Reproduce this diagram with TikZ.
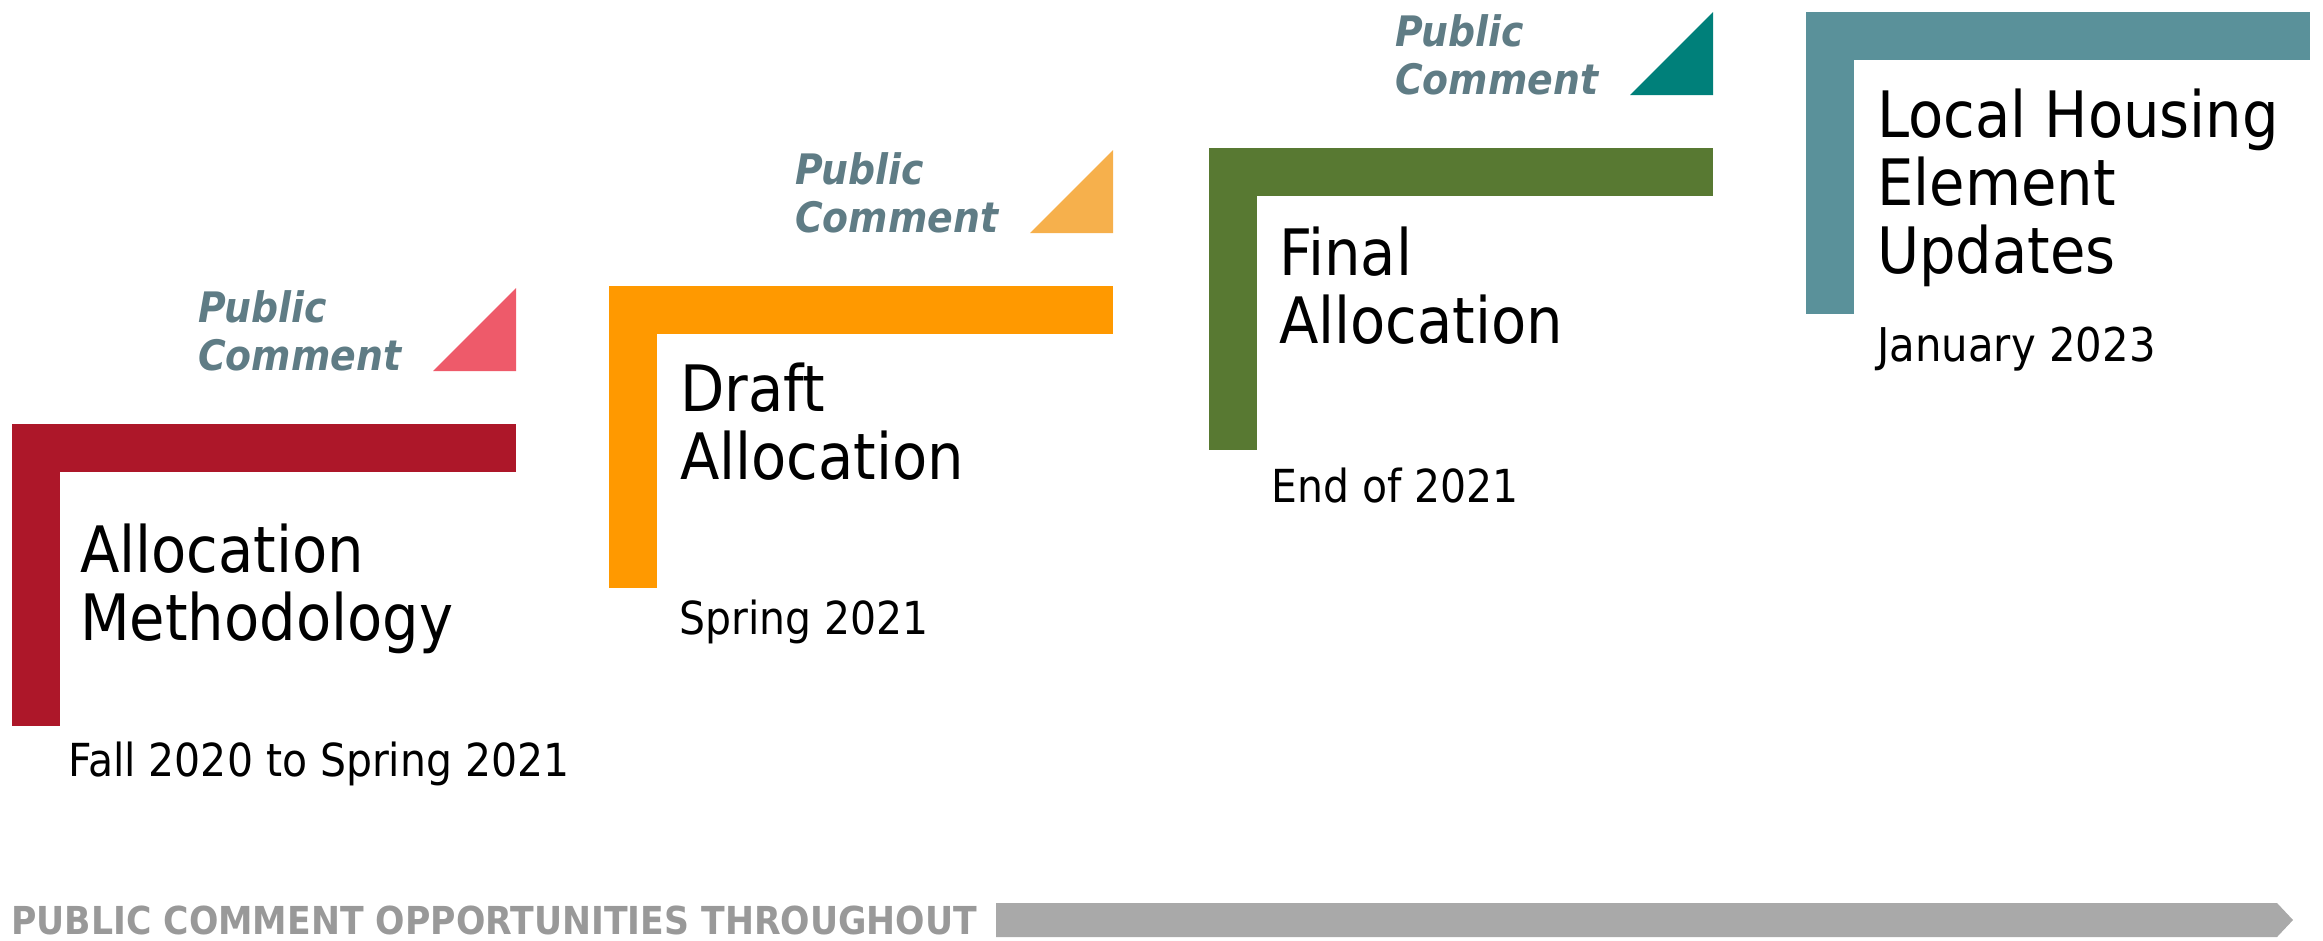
\documentclass[tikz,border=0pt]{standalone}
\usepackage{fontspec}
\setmainfont{DejaVu Sans}[FakeStretch=0.9]
\usepackage{tikz}
\usetikzlibrary{positioning}

\definecolor{methred}{HTML}{AD1729}
\definecolor{methpink}{HTML}{EE5A6A}
\definecolor{draftorange}{HTML}{FF9900}
\definecolor{draftlight}{HTML}{F6B04C}
\definecolor{finalgreen}{HTML}{587932}
\definecolor{finalteal}{HTML}{00807A}
\definecolor{localteal}{HTML}{5A919A}
\definecolor{pubslate}{HTML}{5F7C85}
\definecolor{footgray}{HTML}{999999}
\definecolor{arrowgray}{HTML}{A9A9A9}

\begin{document}
\begin{tikzpicture}[x=1pt, y=-1pt,
  title/.style={anchor=base west, inner sep=0pt, align=left,
    font=\fontsize{64}{68}\selectfont},
  when/.style={anchor=base west, inner sep=0pt,
    font=\fontsize{45.5}{54}\selectfont},
  pubc/.style={anchor=base west, inner sep=0pt, align=left, text=pubslate,
    font=\fontsize{42}{48}\selectfont\bfseries\itshape}]
  \useasboundingbox (0,0) rectangle (2323,940);
  % Allocation Methodology (base = last line)
  \fill[methred] (12,424) rectangle (516,472);
  \fill[methred] (12,424) rectangle (60,726);
  \fill[methpink] (433,371) -- (516,371) -- (516,288) -- cycle;
  \node[pubc] (pub1) at (198,370) {Public\\Comment};
  \node[title] (method) at (80,640) {Allocation\\Methodology};
  \node[when] (fall) at (68,776) {Fall 2020 to Spring 2021};
  % Draft Allocation
  \fill[draftorange] (609,286) rectangle (1113,334);
  \fill[draftorange] (609,286) rectangle (657,588);
  \fill[draftlight] (1030,233) -- (1113,233) -- (1113,150) -- cycle;
  \node[pubc] (pub2) at (795,232) {Public\\Comment};
  \node[title] (draft) at (680,479) {Draft\\Allocation};
  \node[when] (spring) at (679,634) {Spring 2021};
  % Final Allocation
  \fill[finalgreen] (1209,148) rectangle (1713,196);
  \fill[finalgreen] (1209,148) rectangle (1257,450);
  \fill[finalteal] (1630,95) -- (1713,95) -- (1713,12) -- cycle;
  \node[pubc] (pub3) at (1395,94) {Public\\Comment};
  \node[title] (final) at (1279,343) {Final\\Allocation};
  \node[when] (end) at (1271,502) {End of 2021};
  % Local Housing Element Updates
  \fill[localteal] (1806,12) rectangle (2310,60);
  \fill[localteal] (1806,12) rectangle (1854,314);
  \node[title] (local) at (1877,273) {Local Housing\\Element\\Updates};
  \node[when, font=\fontsize{46.5}{54}\selectfont] (jan) at (1877,361) {January 2023};
  % footer
  \node[anchor=base west, inner sep=0pt, text=footgray,
    font=\fontsize{38.5}{40}\selectfont\bfseries] (throughout) at (11,934)
    {PUBLIC COMMENT OPPORTUNITIES THROUGHOUT};
  \fill[arrowgray] (996,903) -- (2277,903) -- (2293,920) -- (2277,937)
    -- (996,937) -- cycle;
\end{tikzpicture}
\end{document}
